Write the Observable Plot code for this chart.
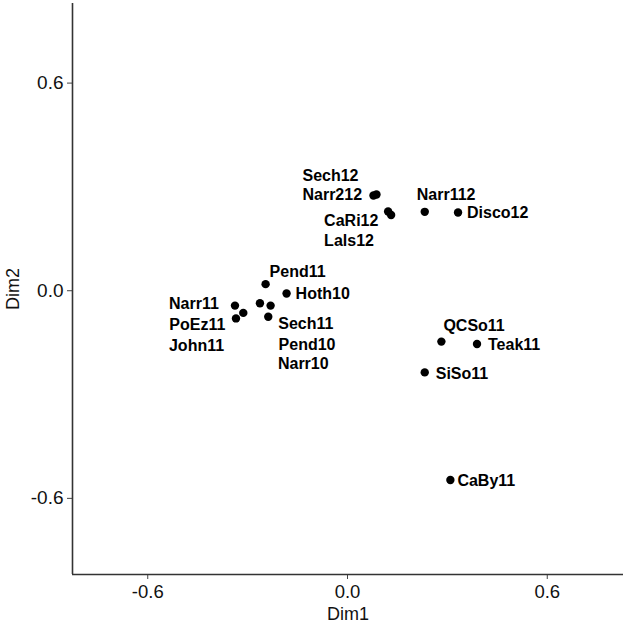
<!DOCTYPE html>
<html>
<head>
<meta charset="utf-8">
<script src="https://cdn.jsdelivr.net/npm/d3@7"></script>
<script src="https://cdn.jsdelivr.net/npm/@observablehq/plot@0.6"></script>
<style>
  html, body { margin: 0; padding: 0; background: #fff; }
  #chart svg { display: block; }
</style>
</head>
<body>
<div id="chart"></div>
<script>
// ---- data ----
const labels = ["Sech12","Narr212","CaRi12","Lals12","Narr112","Disco12","Pend11","Hoth10","Narr11","PoEz11","John11","Sech11","Pend10","Narr10","QCSo11","Teak11","SiSo11","CaBy11"];
const dim1 = [0.078, 0.087, 0.122, 0.131, 0.232, 0.332, -0.246, -0.183, -0.338, -0.313, -0.335, -0.238, -0.231, -0.263, 0.282, 0.389, 0.232, 0.309];
const dim2 = [0.275, 0.278, 0.229, 0.219, 0.228, 0.226, 0.019, -0.008, -0.043, -0.064, -0.080, -0.075, -0.043, -0.036, -0.147, -0.154, -0.236, -0.547];
const xTicks = [-0.6, 0, 0.6];
const yTicks = [-0.6, 0, 0.6];

// ---- layout (label offsets in pixels, repel-style placement) ----
const labelOffset = {
  Sech12: [-71, -20], Narr212: [-74, 0], CaRi12: [-64, 9], Lals12: [-67, 26],
  Narr112: [-8, -17], Disco12: [9, 0], Pend11: [4, -12], Hoth10: [9, 0],
  Narr11: [-66, -2], PoEz11: [-74, 12], John11: [-67, 27],
  Sech11: [10, 7], Pend10: [8, 39], Narr10: [18, 61],
  QCSo11: [2, -16], Teak11: [11, 1], SiSo11: [11, 1], CaBy11: [7, 1]
};

const idx = labels.map((_, i) => i);
const xDomain = [-0.826, 0.829];
const yDomain = [-0.82, 0.83];
const font = "'Liberation Sans', Arial, Helvetica, sans-serif";

const labelMarks = idx.map(i => Plot.text([i], {
  x: j => dim1[j], y: j => dim2[j], text: j => labels[j],
  dx: labelOffset[labels[i]][0], dy: labelOffset[labels[i]][1],
  textAnchor: "start", lineAnchor: "middle",
  fontSize: 16, fontWeight: "bold", fill: "#000"
}));

const chart = Plot.plot({
  width: 633,
  height: 622,
  marginLeft: 72,
  marginRight: 10,
  marginTop: 3,
  marginBottom: 48,
  style: { fontFamily: font, background: "#fff" },
  x: { domain: xDomain },
  y: { domain: yDomain },
  marks: [
    Plot.axisX({
      ticks: xTicks, tickFormat: d => d.toFixed(1), tickSize: 5, tickPadding: 5,
      fontSize: 18.5, stroke: "#444", color: "#111",
      label: "Dim1", labelAnchor: "center", labelArrow: "none", labelOffset: 45
    }),
    Plot.axisY({
      ticks: yTicks, tickFormat: d => d.toFixed(1), tickSize: 5, tickPadding: 4,
      fontSize: 19, stroke: "#444", color: "#111",
      label: "Dim2", labelAnchor: "center", labelArrow: "none", labelOffset: 66
    }),
    Plot.ruleX([xDomain[0]], { stroke: "#333", strokeWidth: 1.6 }),
    Plot.ruleY([yDomain[0]], { stroke: "#333", strokeWidth: 1.6 }),
    Plot.dot(idx, { x: j => dim1[j], y: j => dim2[j], r: 4.2, fill: "#000", stroke: "none" }),
    ...labelMarks
  ]
});

// axis title font size
d3.select(chart).selectAll("g[aria-label='x-axis label'] text, g[aria-label='y-axis label'] text")
  .attr("font-size", 18).attr("fill", "#111");

document.getElementById("chart").appendChild(chart);
</script>
</body>
</html>
